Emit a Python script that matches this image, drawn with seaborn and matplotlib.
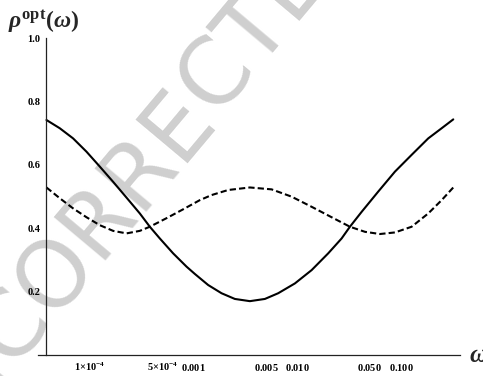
import numpy as np
import pandas as pd
import matplotlib
matplotlib.use("Agg")
import matplotlib.pyplot as plt
import seaborn as sns

# ---- data ----
omega_solid = [3.823e-5, 5.137e-5, 6.902e-5, 9.294e-5, 1.248e-4, 1.677e-4, 2.259e-4,
               3.035e-4, 3.790e-4, 4.732e-4, 6.357e-4, 8.560e-4, 1.029e-3, 1.383e-3,
               1.862e-3, 2.502e-3, 3.491e-3, 4.871e-3, 6.543e-3, 9.482e-3, 1.374e-2,
               1.986e-2, 2.674e-2, 3.215e-2, 4.170e-2, 6.027e-2, 8.734e-2, 0.1265,
               0.1829, 0.2463, 0.3187]
rho_solid = [0.742, 0.716, 0.684, 0.642, 0.595, 0.547, 0.497,
             0.447, 0.405, 0.368, 0.321, 0.279, 0.256, 0.221,
             0.195, 0.177, 0.170, 0.177, 0.195, 0.226, 0.268,
             0.321, 0.368, 0.405, 0.452, 0.516, 0.579, 0.632,
             0.684, 0.716, 0.744]

omega_dashed = [3.823e-5, 5.137e-5, 6.902e-5, 9.294e-5, 1.248e-4, 1.677e-4, 2.259e-4,
                3.035e-4, 3.790e-4, 5.490e-4, 7.936e-4, 1.150e-3, 1.492e-3, 2.156e-3,
                3.491e-3, 5.652e-3, 8.810e-3, 1.374e-2, 2.142e-2, 3.215e-2, 4.486e-2,
                6.259e-2, 8.734e-2, 0.1265, 0.1829, 0.2463, 0.3187]
rho_dashed = [0.529, 0.495, 0.463, 0.435, 0.410, 0.392, 0.384,
              0.392, 0.405, 0.432, 0.460, 0.489, 0.505, 0.521,
              0.529, 0.523, 0.500, 0.468, 0.435, 0.405, 0.389,
              0.382, 0.387, 0.405, 0.447, 0.489, 0.529]

xtick_vals = [1e-4, 5e-4, 1e-3, 5e-3, 1e-2, 5e-2, 1e-1]
xtick_labels = [r"$1{\times}10^{-4}$", r"$5{\times}10^{-4}$", r"$0.001$", r"$0.005$",
                r"$0.010$", r"$0.050$", r"$0.100$"]
ytick_vals = [0.2, 0.4, 0.6, 0.8, 1.0]
ytick_labels = ["0.2", "0.4", "0.6", "0.8", "1.0"]

sns.set_style("white")
plt.rcParams["font.family"] = ["Liberation Serif", "DejaVu Serif"]
plt.rcParams["mathtext.fontset"] = "custom"
plt.rcParams["mathtext.rm"] = "Liberation Serif:bold"
plt.rcParams["mathtext.bf"] = "Liberation Serif:bold"
plt.rcParams["mathtext.it"] = "Liberation Serif:italic:bold"

fig = plt.figure(figsize=(4.83, 3.76), dpi=100)
fig.patch.set_facecolor("white")
ax = fig.add_axes([38.3 / 483, 21 / 376, (460 - 38.3) / 483, (355 - 38.3) / 376])
ax.patch.set_alpha(0)

# watermark
wm_kw = dict(fontsize=66, color="#cfcfcf", rotation=50, rotation_mode="anchor",
             va="baseline", family="DejaVu Sans", zorder=-1)
wm_x, wm_y = 217 / 483, 1 - 119 / 376
fig.text(wm_x, wm_y, "CTED PROOF", ha="left", **wm_kw)
fig.text(wm_x, wm_y, "UNCORRE", ha="right", **wm_kw)

ax.set_xscale("log")
df_s = pd.DataFrame({"omega": omega_solid, "rho": rho_solid})
df_d = pd.DataFrame({"omega": omega_dashed, "rho": rho_dashed})
sns.lineplot(data=df_s, x="omega", y="rho", ax=ax, color="black", lw=1.5, sort=False)
sns.lineplot(data=df_d, x="omega", y="rho", ax=ax, color="black", lw=1.5,
             linestyle=(0, (3, 1.5)), sort=False)

ax.set_xlim(3.19e-5, 0.370)
ax.set_ylim(0, 1.0)
ax.set_xlabel("")
ax.set_ylabel("")

for s in ["top", "right"]:
    ax.spines[s].set_visible(False)
ax.spines["left"].set_position(("data", omega_solid[0]))
ax.spines["left"].set_bounds(0, 1.0)
for s in ["left", "bottom"]:
    ax.spines[s].set_linewidth(0.9)
    ax.spines[s].set_color("#222222")

ax.set_xticks(xtick_vals)
ax.set_xticklabels(xtick_labels)
xminor = [m * 10.0 ** k for k in (-4, -3, -2, -1) for m in (2, 3, 4, 6, 7, 8, 9)]
xminor = [v for v in xminor if v < 0.37]
ax.set_xticks(xminor, minor=True)
ax.xaxis.set_minor_formatter(matplotlib.ticker.NullFormatter())
ax.set_yticks(ytick_vals)
ax.set_yticklabels(ytick_labels)
ax.set_yticks([0.05 * i for i in range(1, 20) if i % 4 != 0], minor=True)

ax.tick_params(axis="both", which="major", direction="in", length=4, width=0.8,
               colors="#222222", labelsize=7.5)
ax.tick_params(axis="both", which="minor", direction="in", length=2.2, width=0.6,
               colors="#222222")
ax.tick_params(axis="x", which="major", pad=11.5)
ax.tick_params(axis="y", which="major", pad=4.3)
for lbl in ax.get_yticklabels():
    lbl.set_fontweight("bold")
    lbl.set_color("black")
for lbl in ax.get_xticklabels():
    lbl.set_va("baseline")
    lbl.set_color("black")

fig.text(8 / 483, 1 - 28 / 376, r"$\mathit{\rho}^{\mathrm{opt}}\mathrm{(}\mathit{\omega}\mathrm{)}$",
         fontsize=17, ha="left", va="baseline")
fig.text(469 / 483, 1 - 362 / 376, r"$\mathit{\omega}$", fontsize=18, ha="left",
         va="baseline")

fig.savefig("out.png", dpi=100, facecolor="white")
